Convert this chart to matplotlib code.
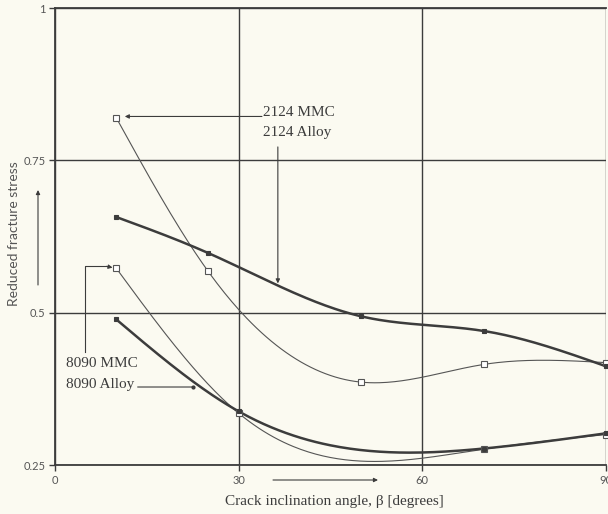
import matplotlib
import numpy as np
from matplotlib import pyplot as plt

matplotlib.use("Agg")

# crack inclination angle (degrees)
angles = [10, 25, 50, 70, 90]
mmc_2124 = [0.820, 0.568, 0.386, 0.415, 0.418]
alloy_2124 = [0.657, 0.598, 0.494, 0.470, 0.412]

angles_8090 = [10, 30, 70, 90]
mmc_8090 = [0.573, 0.335, 0.276, 0.300]
alloy_8090 = [0.489, 0.338, 0.277, 0.302]

x_ticks = [0, 30, 60, 90]
y_ticks = [0.25, 0.5, 0.75, 1]
y_tick_labels = ["0.25", "0.5", "0.75", "1"]

BG = "#fbfaf1"
INK = "#3c3c3c"
SERIF = ["Liberation Serif", "DejaVu Serif"]
SANS = ["Lato", "DejaVu Sans"]


def smooth(xs, ys, n=200):
    # natural cubic spline, only used to draw the curve through the points
    x = np.asarray(xs, float)
    y = np.asarray(ys, float)
    k = len(x)
    h = np.diff(x)
    a = np.zeros((k, k))
    b = np.zeros(k)
    a[0, 0] = a[-1, -1] = 1.0
    for i in range(1, k - 1):
        a[i, i - 1] = h[i - 1]
        a[i, i] = 2 * (h[i - 1] + h[i])
        a[i, i + 1] = h[i]
        b[i] = 6 * ((y[i + 1] - y[i]) / h[i] - (y[i] - y[i - 1]) / h[i - 1])
    m = np.linalg.solve(a, b)
    xx = np.linspace(x[0], x[-1], n)
    j = np.clip(np.searchsorted(x, xx) - 1, 0, k - 2)
    t0 = x[j + 1] - xx
    t1 = xx - x[j]
    hj = h[j]
    yy = (m[j] * t0 ** 3 + m[j + 1] * t1 ** 3) / (6 * hj) \
        + (y[j] / hj - m[j] * hj / 6) * t0 + (y[j + 1] / hj - m[j + 1] * hj / 6) * t1
    return xx, yy


fig = plt.figure(figsize=(6.08, 5.14), dpi=100, facecolor=BG)
ax = fig.add_axes([55 / 608, 1 - 465 / 514, 551 / 608, 457 / 514])
ax.set_facecolor(BG)

series = [
    (angles, mmc_2124, 0.8, "white", 4.5, "#555555"),
    (angles, alloy_2124, 1.8, INK, 3.5, INK),
    (angles_8090, mmc_8090, 0.8, "white", 4.5, "#555555"),
    (angles_8090, alloy_8090, 1.8, INK, 3.5, INK),
]
for xs, ys, lw, face, size, color in series:
    xx, yy = smooth(xs, ys)
    ax.plot(xx, yy, color=color, linewidth=lw, zorder=3, clip_on=False)
    ax.plot(xs, ys, linestyle="none", marker="s", markersize=size,
            markerfacecolor=face, markeredgecolor=color, markeredgewidth=0.8,
            zorder=4, clip_on=False)

ax.set_xlim(0, 90)
ax.set_ylim(0.25, 1)
ax.set_xticks(x_ticks)
ax.set_yticks(y_ticks)
ax.set_yticklabels(y_tick_labels)
ax.grid(True, color=INK, linewidth=1.0)
ax.set_axisbelow(True)
for side in ["top", "bottom", "left"]:
    ax.spines[side].set_color(INK)
    ax.spines[side].set_linewidth(1.3)
ax.spines["right"].set_visible(False)
ax.tick_params(axis="both", direction="out", length=4, width=1.0, color=INK,
               labelsize=8, labelcolor="#555555", pad=3)
for label in ax.get_xticklabels() + ax.get_yticklabels():
    label.set_family(SANS)

arrow = dict(arrowstyle="-|>", color=INK, linewidth=0.8, mutation_scale=6, shrinkA=0, shrinkB=0)
line = dict(arrowstyle="-", color=INK, linewidth=0.8, shrinkA=0, shrinkB=0)

# 2124 labels
ax.text(34.0, 0.829, "2124 MMC", family=SERIF, fontsize=11, color=INK, va="center")
ax.text(34.0, 0.796, "2124 Alloy", family=SERIF, fontsize=11, color=INK, va="center")
ax.annotate("", xy=(11.4, 0.822), xytext=(33.8, 0.822), arrowprops=arrow)
ax.annotate("", xy=(36.4, 0.548), xytext=(36.4, 0.772), arrowprops=arrow)

# 8090 labels
ax.text(1.8, 0.416, "8090 MMC", family=SERIF, fontsize=11, color=INK, va="center")
ax.text(1.8, 0.382, "8090 Alloy", family=SERIF, fontsize=11, color=INK, va="center")
ax.plot([4.9, 4.9, 8.6], [0.435, 0.576, 0.576], color=INK, linewidth=0.8)
ax.annotate("", xy=(9.4, 0.574), xytext=(8.4, 0.576), arrowprops=arrow)
ax.annotate("", xy=(22.5, 0.378), xytext=(13.5, 0.378), arrowprops=line)
ax.plot([22.5], [0.378], marker="o", markersize=2, color=INK)

# axis labels with their arrows
fig.text(334 / 608, 1 - 501 / 514, "Crack inclination angle, \u03b2 [degrees]",
         family=SERIF, fontsize=11, color=INK, ha="center", va="center")
fig.text(14 / 608, 1 - 234 / 514, "Reduced fracture stress", family=SANS,
         fontsize=10, color="#555555", rotation=90, ha="center", va="center")
ax.annotate("", xy=(378 / 608, 1 - 480 / 514), xytext=(273 / 608, 1 - 480 / 514),
            xycoords="figure fraction", textcoords="figure fraction", arrowprops=arrow)
ax.annotate("", xy=(38 / 608, 1 - 190 / 514), xytext=(38 / 608, 1 - 285 / 514),
            xycoords="figure fraction", textcoords="figure fraction", arrowprops=arrow)

fig.savefig("out.png", dpi=100, facecolor=BG)
